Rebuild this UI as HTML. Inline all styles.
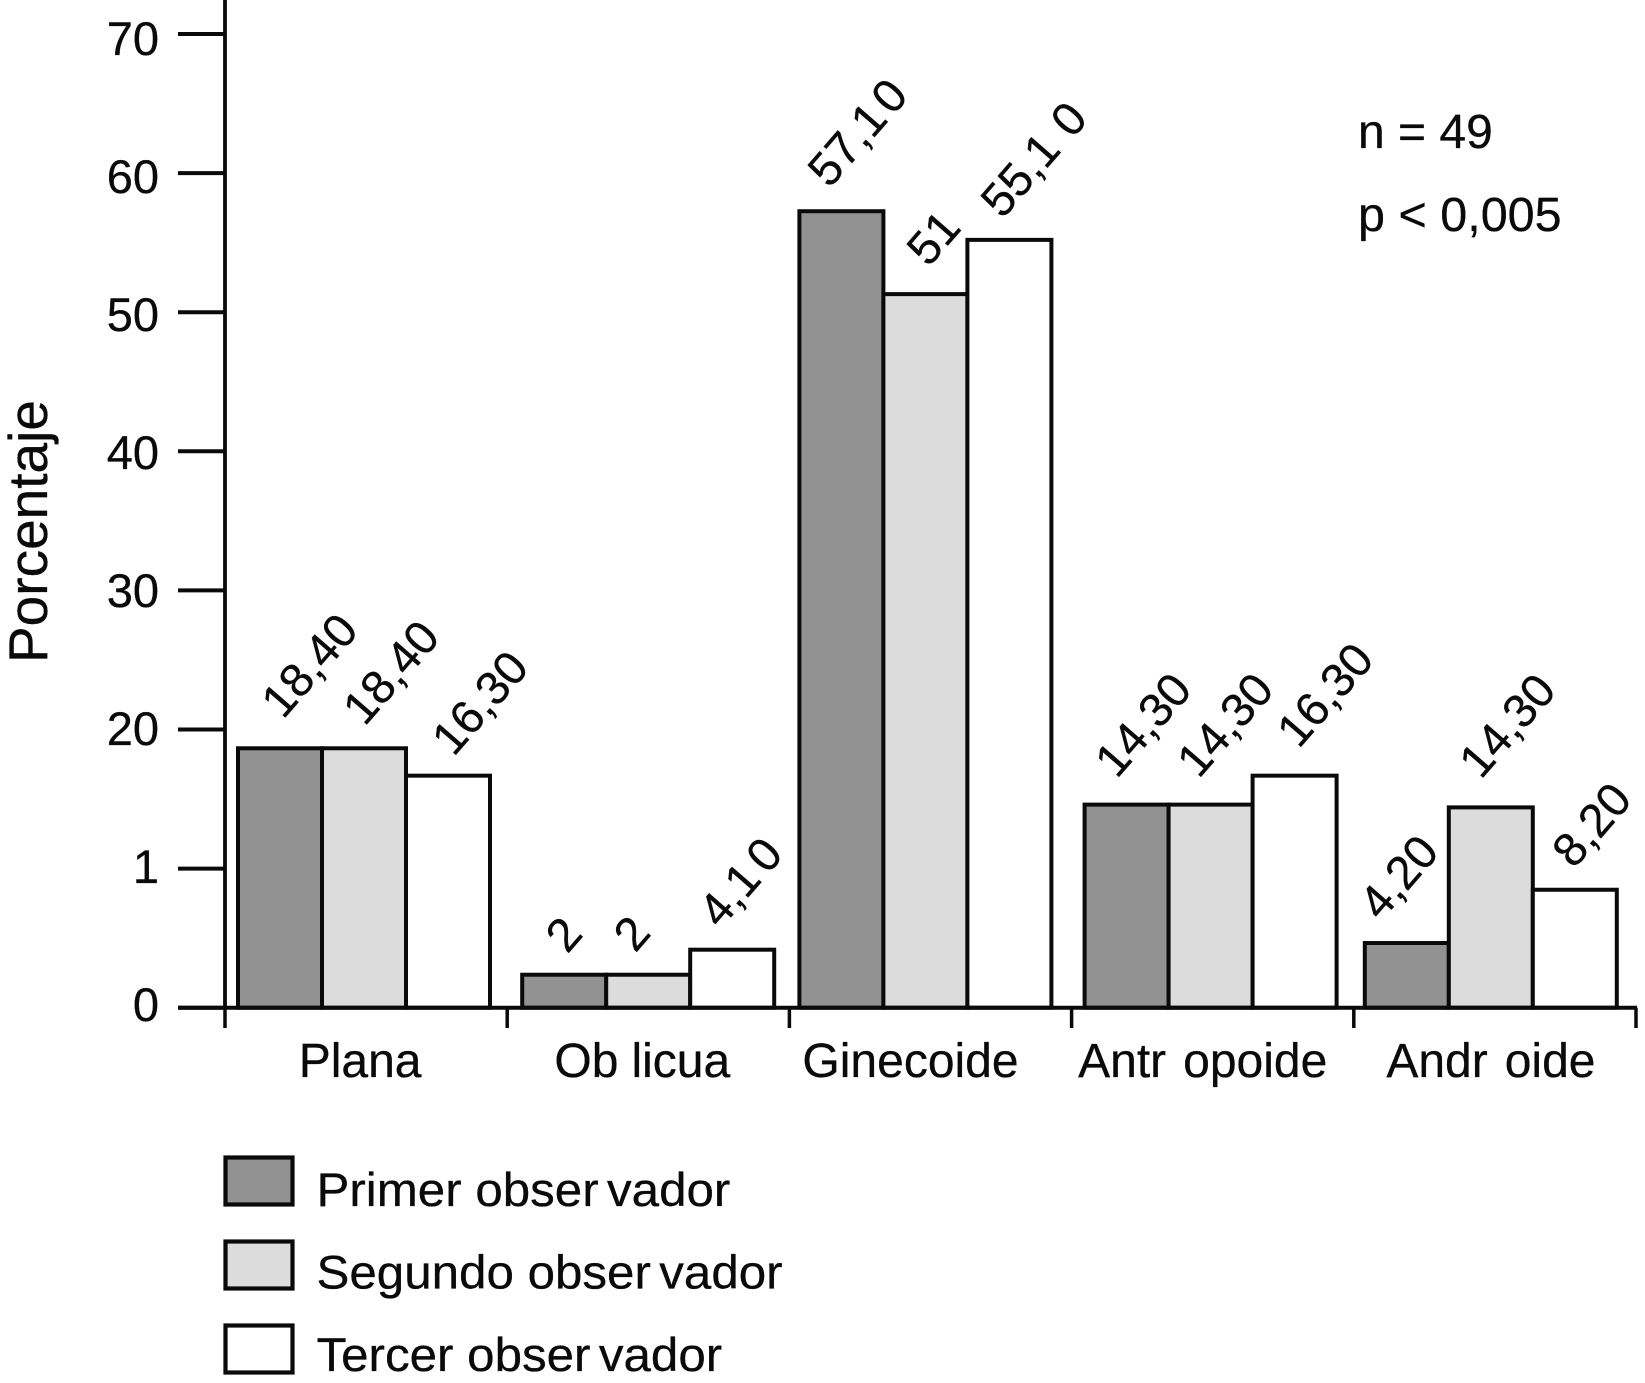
<!DOCTYPE html>
<html lang="es">
<head>
<meta charset="utf-8">
<title>Porcentaje por tipo de pelvis y observador</title>
<style>
  html, body { margin: 0; padding: 0; background: #fff; width: 1645px; height: 1383px; overflow: hidden; }
  svg { display: block; }
  text { font-family: "Liberation Sans", Arial, sans-serif; fill: #0a0a0a; stroke: #0a0a0a; stroke-width: 0.3px; font-size: 47px; }
</style>
</head>
<body>
<svg id="chart" xmlns="http://www.w3.org/2000/svg" width="1645" height="1383" viewBox="0 0 1645 1383">
  <rect x="0" y="0" width="1645" height="1383" fill="#fff"/>
  <g id="bars"></g>
  <g id="value-labels"></g>
  <g id="axes"></g>
  <text transform="translate(47,663) rotate(-90)" style="font-size:55px">Porcentaje</text>
  <text x="1358" y="148" style="font-size:48px">n = 49</text>
  <text x="1358" y="231" style="font-size:48.5px">p &lt; 0,005</text>
  <g id="legend"></g>
</svg>
<script>
// Chart data
const categories = ["Plana", "Ob|licua", "Ginecoide", "Antr|opoide", "Andr|oide"];
const seriesNames = ["Primer obser|vador", "Segundo obser|vador", "Tercer obser|vador"];
const primerValues = [18.65, 2.37, 57.26, 14.6, 4.65];
const segundoValues = [18.65, 2.37, 51.3, 14.6, 14.4];
const tercerValues = [16.68, 4.17, 55.2, 16.68, 8.48];
const primerLabels = ["18,40", "2", "57,1|0", "14,30", "4,20"];
const segundoLabels = ["18,40", "2", "51", "14,30", "14,30"];
const tercerLabels = ["16,30", "4,1|0", "55,1|0", "16,30", "8,20"];
const yTickValues = [0, 10, 20, 30, 40, 50, 60, 70];
const yTickLabels = ["0", "1", "20", "30", "40", "50", "60", "70"];

const SVG_NS = "http://www.w3.org/2000/svg";
const INK = "#0a0a0a";
const seriesValues = [primerValues, segundoValues, tercerValues];
const seriesLabels = [primerLabels, segundoLabels, tercerLabels];
const seriesFills = ["#929292", "#dcdcdc", "#ffffff"];

// Axis functions
const axisLeft = 225;
const groupStep = 282.2;
const barWidth = 84;
const barInset = 13;
function yScale(v) { return 1007.7 - v * 13.91; }
function yTickLabelBaseline(v) { return 1021 - v * 13.8; }
function groupLeft(g) { return axisLeft + g * groupStep; }
function barX(g, s) {
  const groupNudge = [0, 2, -3, 0, -2];
  return groupLeft(g) + barInset + groupNudge[g] + s * barWidth;
}

function make(tag, attrs, parent) {
  const el = document.createElementNS(SVG_NS, tag);
  for (const k in attrs) el.setAttribute(k, attrs[k]);
  parent.appendChild(el);
  return el;
}
// '|' marks a visible typesetting gap, kept out of the text itself
function fillText(el, str, gap) {
  str.split("|").forEach(function (part, i) {
    const t = make("tspan", i ? { dx: gap } : {}, el);
    t.textContent = part;
  });
}

const barsG = document.getElementById("bars");
const labelsG = document.getElementById("value-labels");
const axesG = document.getElementById("axes");
const legendG = document.getElementById("legend");

// Hand placement of the rotated value labels relative to their bars
const labelNudgeX = [[3, 3, -12, -10, -26], [0.5, -13, 3, -12, -10], [5.5, -12, -7, 4, -1]];
const labelNudgeY = [[-28, -20, -22, -25, -21], [-21, -21, -26, -25, -27], [-18, -20, -20, -26, -20]];
const labelGap = [[0, 0, 5, 0, 0], [0, 0, 0, 0, 0], [0, 7, 15, 0, 0]];

seriesValues.forEach(function (values, s) {
  values.forEach(function (v, g) {
    const bar = make("rect", {
      x: barX(g, s), y: yScale(v), width: barWidth, height: yScale(0) - yScale(v),
      fill: seriesFills[s], stroke: INK, "stroke-width": 4
    }, barsG);
    
    

    const lx = barX(g, s) + barWidth / 2 + labelNudgeX[s][g];
    const ly = yScale(v) + labelNudgeY[s][g];
    const label = make("text", {
      transform: "translate(" + lx + "," + ly + ") rotate(-49)"
    }, labelsG);
    
    
    fillText(label, seriesLabels[s][g], labelGap[s][g]);
  });
});

// Y axis line, ticks and labels
const yAxisLine = make("line", { x1: axisLeft, x2: axisLeft, y1: 0, y2: yScale(0), stroke: INK, "stroke-width": 3.8 }, axesG);



yTickValues.forEach(function (v, i) {
  const tick = make("line", { x1: 178, x2: axisLeft, y1: yScale(v), y2: yScale(v), stroke: INK, "stroke-width": 4 }, axesG);
  
  
  const label = make("text", { x: 159, y: yTickLabelBaseline(v), "text-anchor": "end" }, axesG);
  
  
  label.textContent = yTickLabels[i];
});

// X axis line, ticks and labels
const xAxisLine = make("line", { x1: 178, x2: groupLeft(categories.length) + 1, y1: yScale(0), y2: yScale(0), stroke: INK, "stroke-width": 4 }, axesG);



for (let i = 0; i <= categories.length; i++) {
  const tick = make("line", { x1: groupLeft(i), x2: groupLeft(i), y1: yScale(0), y2: 1028, stroke: INK, "stroke-width": 3.5 }, axesG);
  
  
}
const categoryLabelShift = [-6, -6, -20, -10, -4];
const categoryGaps = [0, 13, 0, 17, 17];
categories.forEach(function (c, g) {
  const label = make("text", {
    x: groupLeft(g) + groupStep / 2 + categoryLabelShift[g], y: 1077, "text-anchor": "middle",
    style: "font-size:48px"
  }, axesG);
  
  
  fillText(label, c, categoryGaps[g]);
});

// Legend
seriesNames.forEach(function (name, s) {
  const top = 1157.5 + s * 84;
  const swatch = make("rect", { x: 225.5, y: top, width: 67, height: 47, fill: seriesFills[s], stroke: INK, "stroke-width": 4.2 }, legendG);
  
  
  const label = make("text", {
    transform: "translate(316.5," + (top + 48.5 - s * 1.5) + ") scale(1.049,1)"
  }, legendG);
  
  
  fillText(label, name, 8);
});
</script>
</body>
</html>
